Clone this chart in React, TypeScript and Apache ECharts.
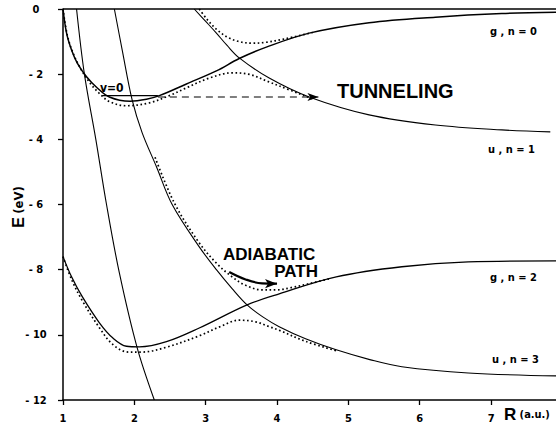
import React, { useEffect, useRef } from "react";
import * as echarts from "echarts";

// x ticks (R, a.u.) and y ticks (E, eV)
const xTickValues = [1, 2, 3, 4, 5, 6, 7];
const yTickValues = [0, -2, -4, -6, -8, -10, -12];

// Solid (diabatic) curves: [R, E]
const g0Solid: [number, number][] = [
  [1.0, 0], [1.05, -0.74], [1.12, -1.26], [1.2, -1.66], [1.33, -2.08], [1.47, -2.4],
  [1.65, -2.7], [1.94, -2.83], [2.17, -2.77], [2.35, -2.66], [2.73, -2.3], [3.15, -1.9],
  [3.47, -1.52], [3.85, -1.17], [4.45, -0.74], [5.29, -0.42], [6.22, -0.25], [7.15, -0.14], [7.91, -0.1],
];
const steepSolid: [number, number][] = [
  [1.19, 0], [1.3, -2.0], [1.46, -4.0], [1.61, -6.0], [1.79, -8.1], [2.04, -10.4], [2.28, -12],
];
const u3Solid: [number, number][] = [
  [1.72, 0], [1.83, -1.26], [1.97, -2.8], [2.11, -3.8], [2.31, -4.84], [2.53, -6.0], [2.91, -7.3],
  [3.15, -8.0], [3.37, -8.58], [3.58, -9.08], [3.8, -9.45], [4.03, -9.75], [4.4, -10.12],
  [4.83, -10.46], [5.3, -10.76], [5.75, -10.98], [6.68, -11.17], [7.91, -11.26],
];
const g2Solid: [number, number][] = [
  [1.0, -7.6], [1.12, -8.22], [1.27, -8.83], [1.51, -9.63], [1.7, -10.1], [1.89, -10.35],
  [2.07, -10.37], [2.45, -10.21], [2.91, -9.79], [3.58, -9.08], [4.03, -8.74], [4.83, -8.22],
  [5.75, -7.91], [6.68, -7.76], [7.91, -7.73],
];
const u1Solid: [number, number][] = [
  [2.84, 0], [3.0, -0.38], [3.15, -0.74], [3.3, -1.12], [3.47, -1.5], [3.89, -2.12],
  [4.45, -2.7], [5.29, -3.25], [6.22, -3.56], [7.15, -3.71], [7.83, -3.77],
];

// Dotted (adiabatic) curves
const upperDot1: [number, number][] = [
  [2.91, 0], [3.02, -0.32], [3.15, -0.62], [3.3, -0.86], [3.45, -0.99], [3.65, -1.05],
  [3.85, -1.02], [4.1, -0.92], [4.5, -0.72],
];
const lowerDot1: [number, number][] = [
  [1.0, 0], [1.06, -0.8], [1.14, -1.35], [1.24, -1.8], [1.37, -2.25], [1.5, -2.57],
  [1.65, -2.84], [1.89, -2.97], [2.21, -2.88], [2.5, -2.65], [2.73, -2.42], [3.05, -2.12],
  [3.37, -1.96], [3.6, -2.0], [3.89, -2.24], [4.03, -2.36], [4.5, -2.76],
];
const upperDot2: [number, number][] = [
  [2.29, -4.55], [2.56, -5.95], [2.9, -7.15], [3.15, -7.8], [3.37, -8.22], [3.56, -8.48],
  [3.79, -8.62], [4.0, -8.62], [4.2, -8.55], [4.45, -8.43], [4.75, -8.27],
];
const lowerDot2: [number, number][] = [
  [1.0, -7.6], [1.12, -8.3], [1.27, -8.95], [1.51, -9.78], [1.7, -10.3], [1.92, -10.53],
  [2.1, -10.53], [2.45, -10.38], [2.91, -10.03], [3.2, -9.75], [3.47, -9.55], [3.7, -9.6],
  [3.89, -9.75], [4.03, -9.86], [4.4, -10.2], [4.85, -10.5],
];

// frame line at E = 0
const zeroLine: [number, number][] = [[1.0, 0], [7.91, 0]];
// v = 0 level and tunneling path
const v0Level: [number, number][] = [[1.55, -2.66], [2.33, -2.66]];
const tunnelPath: [number, number][] = [[2.33, -2.7], [4.58, -2.7]];
// adiabatic path arrow
const adiabaticPath: [number, number][] = [[3.33, -8.07], [3.56, -8.3], [3.79, -8.42], [4.0, -8.43]];

const COND = "'DejaVu Sans Condensed', 'Liberation Sans Narrow', 'DejaVu Sans', sans-serif";
const HELV = "'Liberation Sans', Arial, sans-serif";

export default function App() {
  const ref = useRef<HTMLDivElement>(null);
  useEffect(() => {
    if (!ref.current) return;
    const chart = echarts.init(ref.current, undefined, { renderer: "svg" });

    const solid = (data: [number, number][], width = 1.1) => ({
      type: "line", data, smooth: 0.35, symbol: "none", clip: true,
      lineStyle: { color: "#000", width },
    });
    const dotted = (data: [number, number][]) => ({
      type: "line", data, smooth: 0.35, symbol: "none", clip: true,
      lineStyle: { color: "#000", width: 1.7, type: [1.6, 2.6] },
    });
    const withArrowEnd = (data: [number, number][], size: number[]) =>
      data.map((p, i) =>
        i === data.length - 1
          ? { value: p, symbol: "arrow", symbolSize: size, symbolRotate: -90, itemStyle: { color: "#000" } }
          : { value: p, symbol: "none" }
      );

    const labelText = (text: string, x: number, y: number) => ({
      type: "text", x, y,
      style: { text, font: `bold 11px ${COND}`, fill: "#000", verticalAlign: "middle" },
    });

    chart.setOption({
      animation: false,
      backgroundColor: "#fff",
      grid: { left: 63, top: 9, width: 493, height: 391 },
      xAxis: {
        type: "value", min: xTickValues[0], max: 7.91, interval: 1, position: "bottom",
        axisLine: { show: true, onZero: false, lineStyle: { color: "#000", width: 1.6 } },
        axisTick: { show: true, length: 5, lineStyle: { color: "#000", width: 1.3 } },
        axisLabel: {
          margin: 13, color: "#000", fontWeight: "bold", fontSize: 11, fontFamily: COND,
          showMaxLabel: false,
          formatter: (v: number) => (xTickValues.includes(v) ? String(v) : ""),
        },
        splitLine: { show: false },
      },
      yAxis: {
        type: "value", min: -12, max: 0, interval: 2,
        axisLine: { show: true, onZero: false, lineStyle: { color: "#000", width: 1.5 } },
        axisTick: { show: true, length: 5, lineStyle: { color: "#000", width: 1.3 } },
        axisLabel: {
          margin: 27, align: "center", color: "#000", fontWeight: "bold", fontSize: 11, fontFamily: COND,
          formatter: (v: number) => (yTickValues.includes(v) ? (v === 0 ? "0" : "- " + Math.abs(v)) : ""),
        },
        splitLine: { show: false },
      },
      series: [
        {
          type: "line", data: zeroLine, symbol: "none", clip: false,
          lineStyle: { color: "#000", width: 1.5 },
        },
        solid(g0Solid, 1.5),
        solid(steepSolid),
        solid(u3Solid),
        solid(g2Solid, 1.3),
        solid(u1Solid),
        dotted(upperDot1),
        dotted(lowerDot1),
        dotted(upperDot2),
        dotted(lowerDot2),
        { type: "line", data: v0Level, symbol: "none", lineStyle: { color: "#000", width: 1.3 } },
        {
          type: "line", data: withArrowEnd(tunnelPath, [6, 11]), symbol: "none",
          lineStyle: { color: "#000", width: 1.1, type: [7, 5] },
        },
        {
          type: "line", data: withArrowEnd(adiabaticPath, [7, 12]), smooth: 0.4, symbol: "none",
          lineStyle: { color: "#000", width: 2.2 },
        },
      ],
      graphic: [
        {
          type: "text", x: 18, y: 207, rotation: Math.PI / 2,
          style: {
            text: "{e|E} {u|(eV)}", align: "center", verticalAlign: "middle", fill: "#000",
            rich: {
              e: { font: `bold 16px ${HELV}`, fill: "#000" },
              u: { font: `bold 13px ${COND}`, fill: "#000" },
            },
          },
        },
        {
          type: "text", x: 504, y: 414,
          style: {
            text: "{r|R} {u|(a.u.)}", verticalAlign: "middle", fill: "#000",
            rich: {
              r: { font: `bold 17px ${HELV}`, fill: "#000" },
              u: { font: `bold 11px ${COND}`, fill: "#000" },
            },
          },
        },
        { type: "text", x: 337, y: 91, style: { text: "TUNNELING", font: `bold 20px ${HELV}`, fill: "#000", verticalAlign: "middle" } },
        { type: "text", x: 223, y: 254, style: { text: "ADIABATIC", font: `bold 17px ${HELV}`, fill: "#000", verticalAlign: "middle" } },
        { type: "text", x: 318, y: 271, style: { text: "PATH", font: `bold 17px ${HELV}`, fill: "#000", align: "right", verticalAlign: "middle" } },
        { type: "text", x: 100, y: 88, style: { text: "v=0", font: `bold 12px ${COND}`, fill: "#000", verticalAlign: "middle" } },
        labelText("g , n = 0", 490, 31),
        labelText("u , n = 1", 488, 149),
        labelText("g , n = 2", 490, 277),
        labelText("u , n = 3", 492, 359),
      ],
    });
    return () => chart.dispose();
  }, []);
  return (
    <div
      ref={ref}
      style={{ position: "absolute", left: 0, top: 0, width: 556, height: 429, background: "#fff" }}
    />
  );
}
